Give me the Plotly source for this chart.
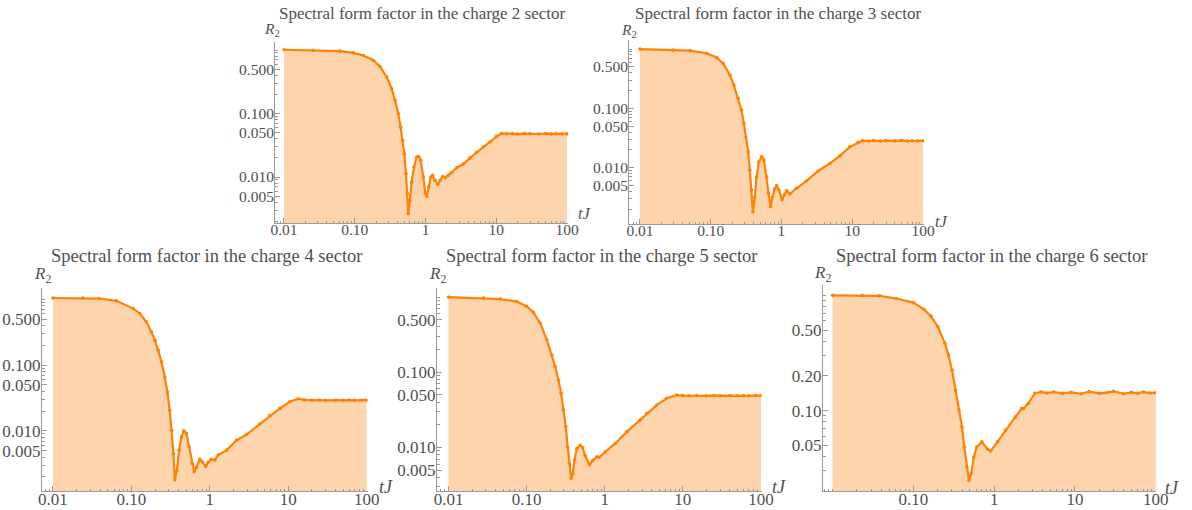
import plotly.graph_objects as go

# ---------------- data ----------------
t_q2 = [0.01, 0.026, 0.062, 0.096, 0.132, 0.183, 0.227, 0.283, 0.333, 0.371, 0.413, 0.445, 0.475, 0.502,
        0.529, 0.553, 0.571, 0.60, 0.637, 0.687, 0.75, 0.80, 0.855, 0.931, 0.995, 1.04, 1.11, 1.19, 1.26,
        1.36, 1.49, 1.61, 1.75, 1.91, 2.1, 2.34, 2.76, 3.43, 4.26, 5.28, 6.56, 8.16, 10.1, 11.9, 14, 17,
        20, 25, 30, 40, 50, 60, 70, 85, 100]
r_q2 = [1.01, 0.99, 0.96, 0.90, 0.82, 0.69, 0.55, 0.376, 0.246, 0.161, 0.099, 0.061, 0.038, 0.0233,
        0.0113, 0.00547, 0.00265, 0.0043, 0.0083, 0.0144, 0.0207, 0.021, 0.0183, 0.010, 0.0055, 0.005,
        0.0070, 0.010, 0.0106, 0.0089, 0.0077, 0.0089, 0.0102, 0.0098, 0.0106, 0.0118, 0.0140, 0.0160,
        0.0200, 0.0245, 0.0297, 0.0356, 0.0437, 0.0485, 0.0478, 0.0482, 0.0475, 0.0484, 0.0479, 0.0476,
        0.0483, 0.0477, 0.0481, 0.0478, 0.0480]

t_q3 = [0.01, 0.0295, 0.051, 0.087, 0.121, 0.150, 0.187, 0.212, 0.244, 0.272, 0.294, 0.314, 0.338, 0.357,
        0.377, 0.394, 0.42, 0.444, 0.479, 0.524, 0.564, 0.614, 0.655, 0.70, 0.746, 0.80, 0.853, 0.92, 1.02,
        1.10, 1.18, 1.31, 1.63, 2.26, 3.3, 4.83, 6.68, 9.25, 12.1, 14, 17, 20, 25, 30, 40, 50, 60, 70, 85, 100]
r_q3 = [1.0, 0.96, 0.94, 0.85, 0.72, 0.57, 0.365, 0.247, 0.148, 0.094, 0.056, 0.033, 0.0186, 0.0091,
        0.0042, 0.0018, 0.0032, 0.0070, 0.0126, 0.0153, 0.0135, 0.0070, 0.0037, 0.0022, 0.0032, 0.0044,
        0.0050, 0.0042, 0.0029, 0.0035, 0.0041, 0.0036, 0.0045, 0.0060, 0.0088, 0.0118, 0.0158, 0.0225,
        0.0267, 0.0285, 0.0282, 0.0287, 0.0281, 0.0286, 0.0283, 0.0288, 0.0282, 0.0285, 0.0283, 0.0284]

t_q4 = [0.01, 0.024, 0.039, 0.064, 0.105, 0.128, 0.155, 0.180, 0.199, 0.219, 0.242, 0.267, 0.288, 0.308,
        0.327, 0.344, 0.358, 0.38, 0.406, 0.435, 0.467, 0.504, 0.545, 0.595, 0.631, 0.676, 0.746, 0.80,
        0.883, 0.952, 1.05, 1.16, 1.28, 1.64, 2.19, 2.94, 4.36, 5.85, 7.84, 10.5, 13.4, 16, 20, 25, 30,
        40, 50, 60, 70, 85, 100]
r_q4 = [1.05, 1.05, 1.03, 0.95, 0.73, 0.61, 0.457, 0.32, 0.24, 0.169, 0.112, 0.066, 0.039, 0.0206,
        0.0102, 0.0045, 0.0018, 0.0025, 0.0051, 0.0081, 0.0100, 0.0091, 0.0057, 0.0032, 0.0024, 0.0028,
        0.0037, 0.0034, 0.0029, 0.0033, 0.0037, 0.0036, 0.0043, 0.0051, 0.0072, 0.0088, 0.0128, 0.0172,
        0.0220, 0.0277, 0.0308, 0.0296, 0.0293, 0.0295, 0.0292, 0.0294, 0.0291, 0.0295, 0.0292, 0.0293,
        0.0294]

t_q5 = [0.01, 0.028, 0.046, 0.075, 0.10, 0.122, 0.149, 0.181, 0.210, 0.232, 0.255, 0.276, 0.296, 0.317,
        0.336, 0.353, 0.371, 0.39, 0.409, 0.439, 0.484, 0.52, 0.56, 0.637, 0.70, 0.79, 0.85, 1.01, 1.36,
        1.91, 2.84, 3.45, 4.63, 6.22, 8.35, 10, 12, 15, 20, 25, 30, 40, 50, 60, 70, 85, 100]
r_q5 = [1.0, 0.97, 0.94, 0.87, 0.75, 0.625, 0.45, 0.27, 0.170, 0.119, 0.079, 0.0525, 0.0315, 0.0189,
        0.0100, 0.0061, 0.0039, 0.0045, 0.0068, 0.0097, 0.0107, 0.0100, 0.0078, 0.0059, 0.0067, 0.0075,
        0.0074, 0.0087, 0.0113, 0.0161, 0.0231, 0.0284, 0.0366, 0.045, 0.0498, 0.0490, 0.0486, 0.0491,
        0.0485, 0.0489, 0.0487, 0.0490, 0.0486, 0.0488, 0.0485, 0.0489, 0.0490]

t_q6 = [0.01, 0.0233, 0.038, 0.0615, 0.1, 0.135, 0.165, 0.201, 0.246, 0.272, 0.301, 0.333, 0.367, 0.40,
        0.427, 0.458, 0.488, 0.52, 0.56, 0.61, 0.705, 0.82, 0.906, 1.1, 1.38, 1.83, 2.19, 2.3, 2.64, 3.18,
        3.82, 4.5, 5.5, 7, 9, 12, 15, 20, 25, 30, 40, 50, 60, 70, 85, 100]
r_q6 = [1.0, 1.0, 0.99, 0.94, 0.865, 0.757, 0.66, 0.535, 0.383, 0.303, 0.224, 0.150, 0.101, 0.072,
        0.048, 0.0324, 0.0248, 0.0284, 0.0396, 0.0483, 0.0535, 0.0467, 0.0446, 0.0535, 0.0675, 0.088,
        0.104, 0.104, 0.115, 0.141, 0.145, 0.142, 0.145, 0.141, 0.144, 0.140, 0.146, 0.141, 0.143, 0.147,
        0.140, 0.144, 0.141, 0.145, 0.142, 0.143]

titles = ["Spectral form factor in the charge 2 sector",
          "Spectral form factor in the charge 3 sector",
          "Spectral form factor in the charge 4 sector",
          "Spectral form factor in the charge 5 sector",
          "Spectral form factor in the charge 6 sector"]

x_ticks = [0.01, 0.1, 1, 10, 100]
x_labels = ["0.01", "0.10", "1", "10", "100"]
x_ticks_q6 = [0.1, 1, 10, 100]
x_labels_q6 = ["0.10", "1", "10", "100"]
y_ticks = [0.005, 0.01, 0.05, 0.1, 0.5]
y_labels = ["0.005", "0.010", "0.050", "0.100", "0.500"]
y_ticks_q6 = [0.05, 0.1, 0.2, 0.5]
y_labels_q6 = ["0.05", "0.10", "0.20", "0.50"]

series = [(t_q2, r_q2), (t_q3, r_q3), (t_q4, r_q4), (t_q5, r_q5), (t_q6, r_q6)]

# ---------------- layout / styling ----------------
W, H = 1192, 510
# plot boxes in pixels: (left, right, top, bottom), log ranges
boxes = [
    dict(px=(275, 568, 42, 223), xr=(-2.127, 2.014), yr=(-2.724, 0.126), fs=15.5, tfs=17, xso=-8, yso=-3,
         title_c=(422, 13), r2=(272, 29), tj=(584, 213)),
    dict(px=(629, 924, 40, 224), xr=(-2.155, 2.014), yr=(-2.949, 0.153), fs=15.5, tfs=17, xso=-8, yso=-3,
         title_c=(778, 13), r2=(629, 30), tj=(941, 221)),
    dict(px=(42, 367.5, 288, 491), xr=(-2.140, 2.011), yr=(-2.914, 0.173), fs=17, tfs=18.5, xso=-7, yso=-3,
         title_c=(206, 256), r2=(42, 275), tj=(386, 487)),
    dict(px=(437, 761.5, 288, 491), xr=(-2.148, 2.007), yr=(-2.579, 0.12), fs=17, tfs=18.5, xso=-7, yso=-3,
         title_c=(601, 256), r2=(437, 275), tj=(779, 487)),
    dict(px=(823, 1156, 285, 491), xr=(-2.119, 2.004), yr=(-1.698, 0.090), fs=17, tfs=18.5, xso=-7, yso=-3,
         title_c=(991, 256), r2=(822, 274), tj=(1172, 488)),
]

ORANGE = "#FF8205"
FILL = "rgba(253,196,140,0.72)"
AXIS = "#9a9a9a"
TXT = "#505050"
SERIF = "Liberation Serif, Times New Roman, DejaVu Serif, serif"

x_minor = [k * 10.0 ** e for e in range(-3, 3) for k in range(2, 10)]
y_minor_all = [k * 10.0 ** e for e in range(-4, 1) for k in range(1, 10)]

fig = go.Figure()
annotations = []
for i, ((tv, rv), b, title) in enumerate(zip(series, boxes, titles)):
    n = "" if i == 0 else str(i + 1)
    xa, ya = "x" + n, "y" + n
    fig.add_trace(go.Scatter(
        x=tv, y=rv, xaxis=xa, yaxis=ya, mode="lines+markers",
        line=dict(color=ORANGE, width=2.2),
        marker=dict(color=ORANGE, size=3.6),
        fill="tozeroy", fillcolor=FILL, showlegend=False, hoverinfo="x+y"))
    l, r, t, btm = b["px"]
    xd = [l / W, r / W]
    yd = [1 - btm / H, 1 - t / H]
    if i == 4:
        xt, xl, yt, yl = x_ticks_q6, x_labels_q6, y_ticks_q6, y_labels_q6
        xm = x_minor + [0.01]
    else:
        xt, xl, yt, yl = x_ticks, x_labels, y_ticks, y_labels
        xm = x_minor
    ym = [v for v in y_minor_all if all(abs(v - u) > 1e-9 for u in yt)]
    common = dict(showgrid=False, zeroline=False, showline=True, linecolor=AXIS, linewidth=1,
                  ticks="inside", ticklen=5, tickcolor=AXIS, tickwidth=1, type="log",
                  tickfont=dict(family=SERIF, size=b["fs"], color=TXT), tickmode="array",
                  automargin=False)
    xaxis = dict(common, domain=xd, range=list(b["xr"]), tickvals=xt, ticktext=xl,
                 ticklabelstandoff=b["xso"],
                 anchor=ya, minor=dict(tickvals=xm, ticks="inside", ticklen=2.5, tickcolor=AXIS))
    yaxis = dict(common, domain=yd, range=list(b["yr"]), tickvals=yt, ticktext=yl,
                 ticklabelstandoff=b["yso"],
                 anchor=xa, minor=dict(tickvals=ym, ticks="inside", ticklen=2.5, tickcolor=AXIS))
    fig.update_layout(**{"xaxis" + n: xaxis, "yaxis" + n: yaxis})
    annotations.append(dict(text=title, x=b["title_c"][0] / W, y=1 - b["title_c"][1] / H,
                            xref="paper", yref="paper", xanchor="center", yanchor="middle",
                            showarrow=False, font=dict(family=SERIF, size=b["tfs"], color=TXT)))
    annotations.append(dict(text="<i>R</i><sub>2</sub>", x=b["r2"][0] / W, y=1 - b["r2"][1] / H,
                            xref="paper", yref="paper", xanchor="center", yanchor="middle",
                            showarrow=False, font=dict(family=SERIF, size=b["fs"], color=TXT)))
    annotations.append(dict(text="<i>tJ</i>", x=b["tj"][0] / W, y=1 - b["tj"][1] / H,
                            xref="paper", yref="paper", xanchor="center", yanchor="middle",
                            showarrow=False, font=dict(family=SERIF, size=b["fs"] + 1, color=TXT)))

fig.update_layout(width=W, height=H, margin=dict(l=0, r=0, t=0, b=0, pad=0, autoexpand=False),
                  paper_bgcolor="white", plot_bgcolor="white", annotations=annotations)

fig.write_html("out.html", config={"displayModeBar": False},
               post_script="document.body.style.margin='0px';document.body.style.overflow='hidden';")
